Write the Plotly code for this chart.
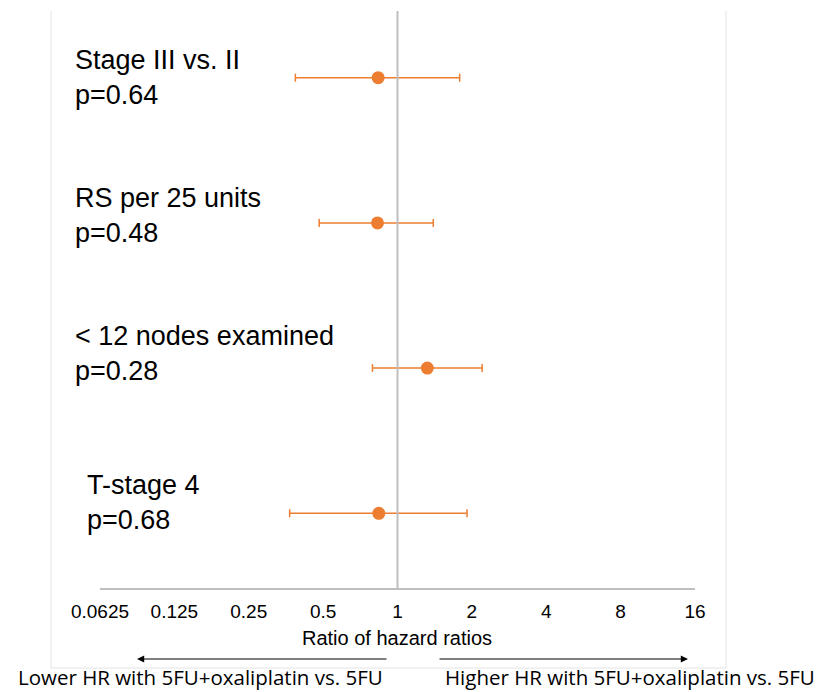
import math
import plotly.graph_objects as go

# ---- data ----
categories = ["Stage III vs. II", "RS per 25 units", "< 12 nodes examined", "T-stage 4"]
p_values = ["0.64", "0.48", "0.28", "0.68"]
hr = [0.835, 0.83, 1.32, 0.84]
ci_low = [0.386, 0.482, 0.792, 0.366]
ci_high = [1.785, 1.396, 2.2, 1.912]
rows = [4, 3, 2, 1]
tick_vals = [0.0625, 0.125, 0.25, 0.5, 1, 2, 4, 8, 16]
tick_text = ["0.0625", "0.125", "0.25", "0.5", "1", "2", "4", "8", "16"]
ref_value = 1

ORANGE = "#ED7D31"
GRAY = "#bfbfbf"

fig = go.Figure()
fig.add_trace(go.Scatter(
    x=hr, y=rows, mode="markers",
    marker=dict(color=ORANGE, size=13),
    error_x=dict(type="data", symmetric=False,
                 array=[h - m for h, m in zip(ci_high, hr)],
                 arrayminus=[m - l for m, l in zip(hr, ci_low)],
                 color=ORANGE, thickness=1.5, width=4),
    showlegend=False, hoverinfo="skip",
))

# row labels
label_x = [-0.0453, -0.0453, -0.0453, -0.0251]
label_shift = [0, 7, 15, 11]
for i, (c, p) in enumerate(zip(categories, p_values)):
    fig.add_annotation(x=label_x[i], xref="paper", y=rows[i], yref="y",
                       yshift=label_shift[i], text=f"{c}<br>p={p}",
                       showarrow=False, xanchor="left", yanchor="middle", align="left",
                       font=dict(family="Liberation Sans, Arial", size=27, color="#000000"))

# vertical reference at 1
fig.add_shape(type="line", xref="x", yref="paper", x0=ref_value, x1=ref_value, y0=0, y1=1,
              line=dict(color=GRAY, width=2))

# frame (light border)
fx0, fx1, fy0 = (51 - 100) / 595, (726 - 100) / 595, (588 - 668) / 577
for x0, y0, x1, y1 in [(fx0, fy0, fx0, 1.0), (fx0, fy0, fx1, fy0), (fx1, fy0, fx1, 1.0)]:
    fig.add_shape(type="line", xref="paper", yref="paper", x0=x0, y0=y0, x1=x1, y1=y1,
                  line=dict(color="#e3e3e3", width=1))

def px(xp):
    return (xp - 100) / 595

def py(yp):
    return (588 - yp) / 577

# axis title
fig.add_annotation(x=px(397), y=py(638), xref="paper", yref="paper",
                   xanchor="center", yanchor="middle",
                   text="Ratio of hazard ratios", showarrow=False,
                   font=dict(family="Liberation Sans, Arial", size=20, color="#000000"))

# arrows
fig.add_annotation(x=px(137), y=py(659), xref="paper", yref="paper", text="",
                   showarrow=True, ax=388 - 137, ay=0, arrowhead=2, arrowsize=1.2,
                   arrowwidth=1.2, arrowcolor="#000000")
fig.add_annotation(x=px(688), y=py(659), xref="paper", yref="paper", text="",
                   showarrow=True, ax=438 - 688, ay=0, arrowhead=2, arrowsize=1.2,
                   arrowwidth=1.2, arrowcolor="#000000")

# direction texts
fig.add_annotation(x=px(200), y=py(677), xref="paper", yref="paper",
                   xanchor="center", yanchor="middle",
                   text="Lower HR with 5FU+oxaliplatin vs. 5FU", showarrow=False,
                   font=dict(family="Open Sans", size=20.5, color="#000000"))
fig.add_annotation(x=px(630), y=py(677), xref="paper", yref="paper",
                   xanchor="center", yanchor="middle",
                   text="Higher HR with 5FU+oxaliplatin vs. 5FU", showarrow=False,
                   font=dict(family="Open Sans", size=20.5, color="#000000"))

fig.update_layout(
    width=824, height=692,
    margin=dict(l=100, r=129, t=11, b=104, pad=0),
    paper_bgcolor="white", plot_bgcolor="white",
    xaxis=dict(type="log", range=[math.log10(0.0625), math.log10(16)],
               tickvals=tick_vals, ticktext=tick_text,
               showgrid=False, zeroline=False,
               showline=True, linecolor=GRAY, linewidth=1.5,
               ticks="outside", ticklen=5, tickcolor="rgba(0,0,0,0)",
               tickfont=dict(family="Liberation Sans, Arial", size=19, color="#000000")),
    yaxis=dict(range=[0.486, 4.459], visible=False, showgrid=False, zeroline=False),
)

fig.write_html("out.html")
